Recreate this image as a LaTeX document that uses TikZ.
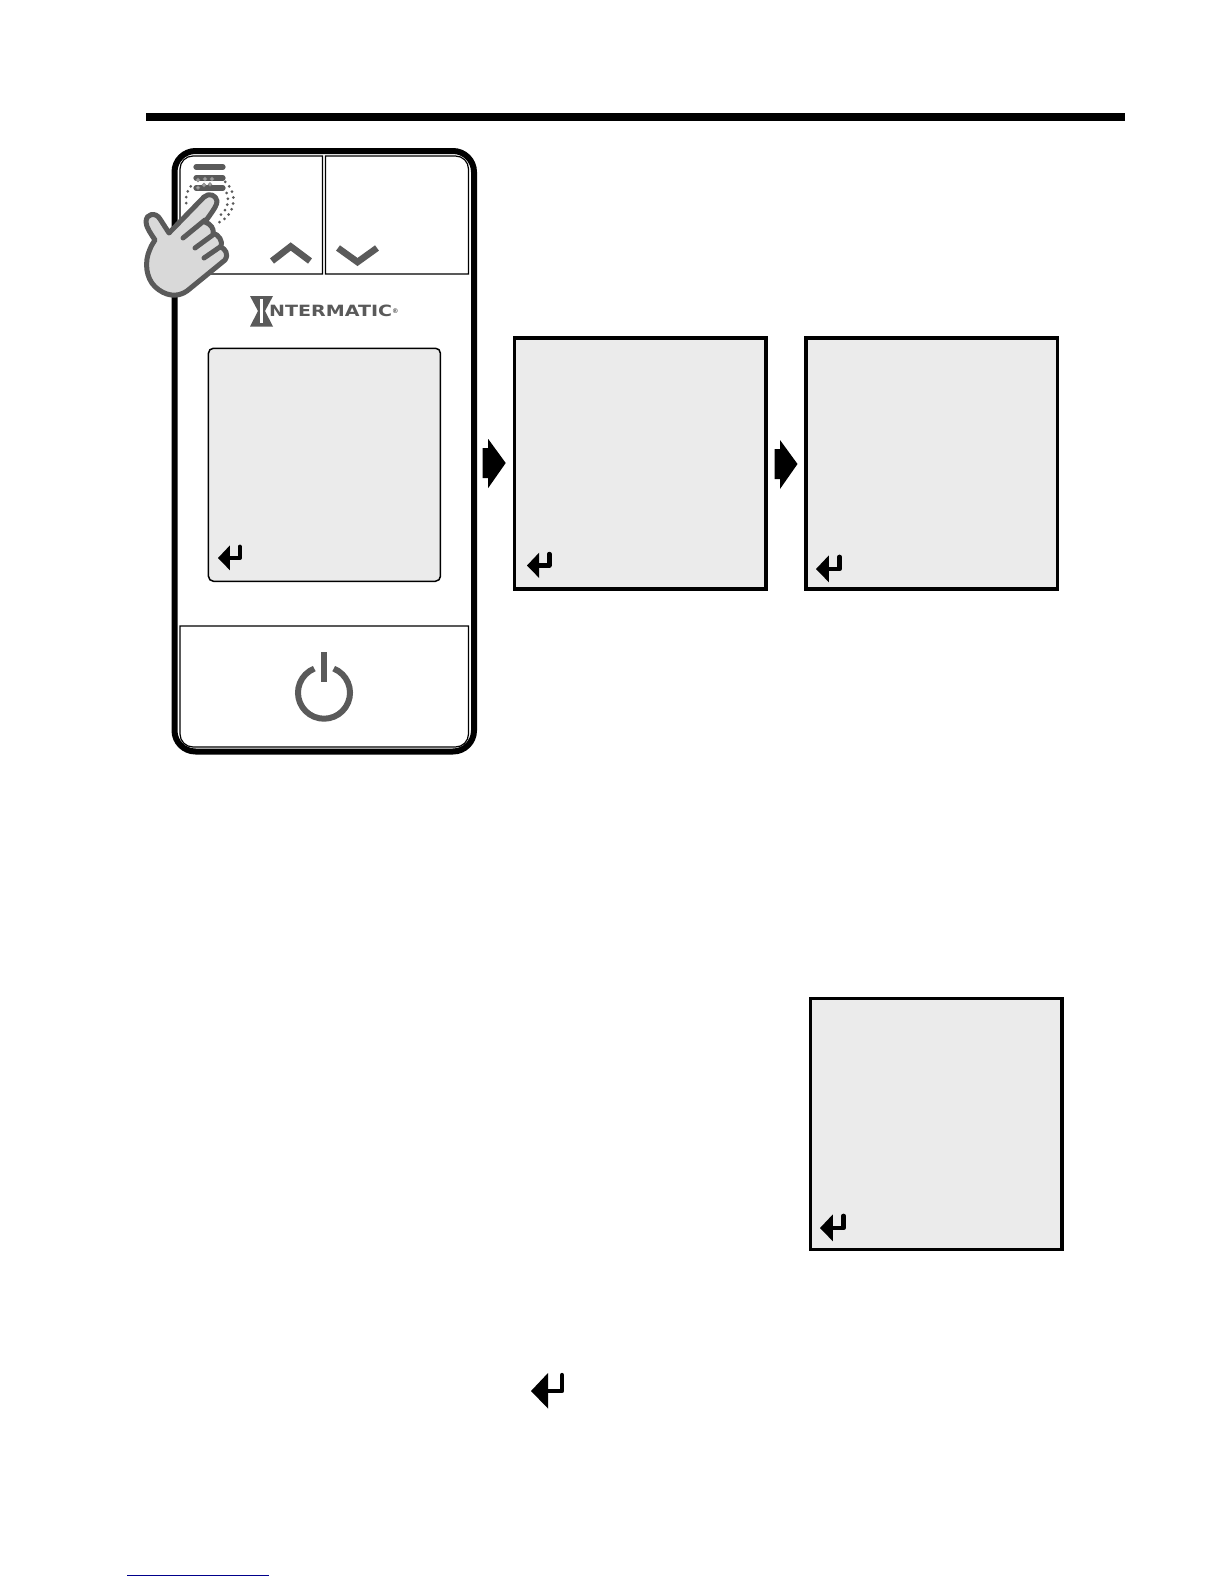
\documentclass[tikz,border=0pt]{standalone}
\usepackage{fontspec}
\usepackage{graphicx}
\setmainfont{DejaVu Sans}
\definecolor{lcd}{HTML}{EBEBEB}
\definecolor{ink}{HTML}{5A5A5A}
\definecolor{handfill}{HTML}{D9D9D9}
\definecolor{linkblue}{HTML}{00008B}
\tikzset{
  lcdbox/.style={draw=black,line width=3.6pt,fill=lcd,line join=miter,anchor=north west,inner sep=0pt,outer sep=0pt},
  keybox/.style={draw=black,line width=1.2pt},
  glyph/.style={draw=ink,line width=6.6pt},
  enterline/.style={draw=black,line width=4.4pt,line cap=round,line join=round},
  dots/.style={draw=ink,line width=3pt,line cap=round,dash pattern=on 0pt off 6pt},
  menubar/.style={draw=ink,line width=5.2pt,line cap=round},
  ripplering/.style={draw=ink!70,line width=0.8pt,fill=lcd!60!ink},
  blockarrow/.style={fill=black,draw=none}
}
\newcommand{\entericon}[3]{%
  \begin{scope}[shift={(#1,#2)},scale=#3]
    \fill[black] (0,0) -- (17,-18) -- (17,17.5) -- cycle;
    \draw[enterline] (14,0) -- (31,0) -- (31,-16);
  \end{scope}}
\newcommand{\pushmark}[2]{%
  \fill[blockarrow] (#1,#2-15) -- (#1+5.5,#2-15) -- (#1+5.5,#2-24) -- (#1+23,#2) -- (#1+5.5,#2+25) -- (#1+5.5,#2+15) -- (#1,#2+15) -- cycle;}
\begin{document}
\begin{tikzpicture}[x=1pt,y=-1pt]
\useasboundingbox (0,0) rectangle (1224,1584);
\fill[white] (0,0) rectangle (1224,1584);

% header rule and footer link line
\fill[black] (146,113) rectangle (1125,121);
\fill[linkblue] (127,1574.5) rectangle (269,1575.8);

% device body
\draw[line width=6pt,rounded corners=21pt] (174.5,151) rectangle (474,751.5);

% top keys
\draw[keybox] (322.5,156) -- (193,156) arc[start angle=-90,end angle=-180,radius=13] -- (180,274) -- (322.5,274) -- cycle;
\draw[keybox] (325.5,156) -- (455.5,156) arc[start angle=-90,end angle=0,radius=13] -- (468.5,274) -- (325.5,274) -- cycle;

% chevrons
\draw[glyph,line join=miter] (272,261) -- (290.7,246.5) -- (310,261);
\draw[glyph,line join=miter] (338,248) -- (357.5,262) -- (377,248);

% logo
\fill[ink] (250,296) -- (273,296) -- (265,311) -- (273,326.5) -- (250,326.5) -- (258,311) -- cycle;
\fill[white] (260,299) rectangle (263,323);
\node[anchor=south west,inner sep=0pt,text=ink] (logotext) at (269,316.5) {\resizebox{123pt}{11.5pt}{\bfseries NTERMATIC}};
\node[anchor=west,inner sep=0pt,text=ink,font=\fontsize{6.5}{7}\selectfont\bfseries] (logomark) at (392,311) {®};

% main display
\node[draw=black,line width=1.5pt,fill=lcd,rounded corners=5pt,anchor=north west,minimum width=232pt,minimum height=233pt,inner sep=0pt] (mainlcd) at (207.7,347.5) {};
\entericon{218}{558}{0.7}

% power key
\draw[keybox] (180,626) -- (468.5,626) -- (468.5,734) arc[start angle=0,end angle=90,radius=13] -- (193,747) arc[start angle=90,end angle=180,radius=13] -- cycle;
\draw[glyph,line width=6pt] (324,692.7) ++(-68:26) arc[start angle=-68,end angle=248,radius=26];
\fill[ink] (321,652) rectangle (327,682);

% displays
\node[lcdbox,minimum width=251.5pt,minimum height=251pt] (lcdA) at (514.5,338) {};
\node[lcdbox,minimum width=251.5pt,minimum height=251pt] (lcdB) at (806,338) {};
\node[lcdbox,minimum width=251.5pt,minimum height=251pt] (lcdC) at (810.5,998.5) {};
\entericon{527}{565.5}{0.72}
\entericon{816}{569}{0.76}
\entericon{820}{1228}{0.76}

% large icon in the text
\entericon{531}{1391}{1}

% arrows between displays
\pushmark{482.7}{463}
\pushmark{774.5}{464}

% menu glyph
\draw[menubar] (196,167) -- (223,167);
\draw[menubar] (196,178) -- (223,178);
\draw[menubar] (196,188) -- (223,188);

% press ripple
\draw[dots] (209,200) ++(-62:24.5) arc[start angle=-62,end angle=75,radius=24.5];
\draw[dots] (209,200) ++(-40:19) arc[start angle=-40,end angle=65,radius=19];
\draw[dots] (209,200) ++(172:23) arc[start angle=172,end angle=225,radius=23];
\foreach \px/\py in {198/180,205/179,212/179,198/187.7,204/185,210/184.3}
  \draw[ripplering] (\px,\py) circle[radius=1.7];

% hand
\draw[draw=ink,fill=handfill,line width=5pt,line join=round]
  (169,233) -- (204,197) .. controls (209,192.5) and (216,195) .. (217,201)
  .. controls (217,205) and (215,208) .. (205,222)
  .. controls (211,224) and (214,229) .. (213,233)
  .. controls (219,235) and (223,241) .. (221,247)
  .. controls (225,249) and (229,254) .. (225,260)
  -- (187,291) .. controls (177,298) and (165,296) .. (155,286.7)
  .. controls (146,278) and (144,262) .. (150,249)
  .. controls (152,244) and (154,242) .. (155,240)
  .. controls (151,234) and (146,227) .. (146,222)
  .. controls (146,213) and (156,212) .. (160,219)
  -- cycle;
\draw[ink,line width=5pt,line cap=round] (183,238) -- (205,220);
\draw[ink,line width=5pt,line cap=round] (195,248) -- (212.7,235);
\draw[ink,line width=5pt,line cap=round] (204,258) -- (220,247);
\end{tikzpicture}
\end{document}
